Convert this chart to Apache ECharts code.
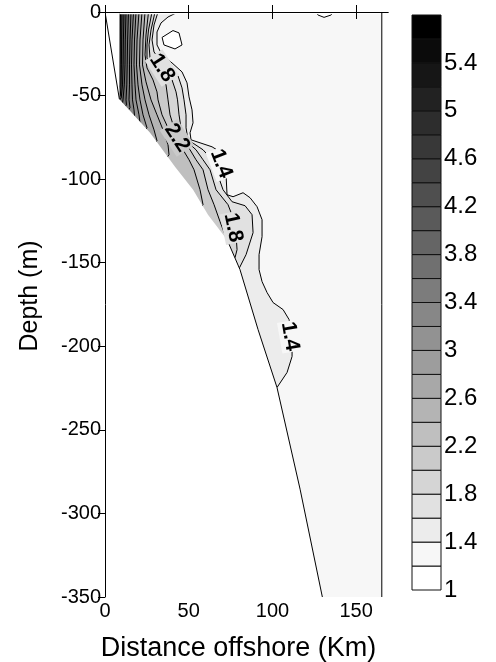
<!DOCTYPE html>
<html><head><meta charset="utf-8">
<script src="https://cdn.jsdelivr.net/npm/echarts@6/dist/echarts.min.js"></script>
<style>html,body{margin:0;padding:0;background:#fff}#c{width:496px;height:662px}</style>
</head><body><div id="c"></div>
<script>
// ---------- data ----------
const xTicks = [0, 50, 100, 150];
const yTicks = [0, -50, -100, -150, -200, -250, -300, -350];
const levels = [1.0,1.2,1.4,1.6,1.8,2.0,2.2,2.4,2.6,2.8,3.0,3.2,3.4,3.6,3.8,4.0,4.2,4.4,4.6,4.8,5.0,5.2,5.4,5.6,5.8];
const colorbarTicks = [1,1.4,1.8,2.2,2.6,3,3.4,3.8,4.2,4.6,5,5.4];
// bathymetry (distance km, depth m)
const seafloor = [[0,0],[8.6,-52.2],[26.9,-72.3],[41.8,-92.6],[52.6,-106.3],[61.5,-121.3],[72.9,-136.2],[80.6,-154.1],[91.4,-190.0],[102.7,-224.6],[116.5,-285.5],[129.8,-350]];
const dataRight = 165.3;
const dataTop = -1.4;
// turbidity contour lines (km, m)
const c14 = [[43.61,0],[37.64,-2.99],[33.45,-6.57],[31.06,-11.95],[31.06,-19.71],[34.05,-25.69],[40.03,-30.47],[46.0,-35.84],[48.99,-42.41],[50.18,-50.78],[51.97,-58.55],[52.57,-66.31],[50.78,-72.29],[51.38,-76.47],[56.75,-78.26],[63.92,-80.65],[68.70,-83.64],[71.09,-89.61],[72.29,-97.38],[72.88,-109.32],[76.47,-110.52],[82.44,-108.13],[86.62,-111.12],[90.80,-116.49],[93.79,-124.26],[93.79,-134.42],[92.0,-145.17],[92.0,-154.13],[93.79,-161.30],[96.78,-167.87],[100.36,-173.84],[106.34,-178.03],[109.92,-184.0],[111.71,-192.96],[111.71,-206.1],[108.73,-215.66],[102.75,-224.63],[98.57,-228.8]];
const c16 = [[31.66,0],[29.27,-7.77],[28.08,-16.73],[29.27,-23.90],[32.86,-28.68],[38.83,-33.45],[43.61,-38.23],[46.0,-45.40],[47.19,-52.57],[48.39,-61.53],[48.39,-69.30],[49.58,-76.47],[58.55,-82.44],[63.92,-88.42],[66.31,-94.39],[70.49,-106.34],[75.87,-113.51],[83.64,-115.90],[87.82,-121.27],[88.42,-132.03],[84.23,-145.17],[80.35,-152.93],[78.26,-157.12]];
const c18 = [[29.87,0],[27.48,-10.75],[26.29,-19.71],[26.88,-27.48],[30.47,-32.86],[35.84,-36.44],[40.03,-40.62],[42.42,-47.79],[43.31,-52.57],[44.21,-61.53],[45.40,-69.30],[47.79,-76.47],[54.36,-82.44],[58.55,-88.42],[62.73,-94.39],[66.31,-106.34],[73.48,-115.30],[76.47,-123.06],[78.26,-133.22],[78.86,-142.18],[77.66,-146.96],[74.68,-149.35]];
const c20 = [[28.08,0],[25.99,-10.75],[25.09,-19.71],[25.09,-27.48],[27.48,-32.86],[32.86,-37.64],[36.44,-43.61],[37.64,-52.57],[38.83,-61.53],[41.22,-69.30],[45.40,-76.47],[50.78,-82.44],[54.36,-88.42],[58.55,-94.39],[61.53,-106.34],[65.12,-115.30],[68.70,-125.45],[72.29,-135.01],[69.90,-139.19]];
const c22 = [[25.99,0],[24.49,-13.74],[23.90,-25.69],[25.09,-33.45],[28.68,-40.62],[31.06,-47.79],[31.66,-52.57],[34.05,-61.53],[37.64,-69.30],[42.42,-76.47],[46.60,-82.44],[50.18,-88.42],[53.17,-94.39],[56.75,-106.34],[58.55,-115.30],[55.56,-119.48]];
const c24 = [[23.90,0],[22.70,-16.73],[22.40,-31.66],[24.49,-41.82],[27.48,-52.57],[31.06,-61.53],[34.65,-70.49],[37.64,-79.45],[38.23,-85.43],[35.84,-88.42]];
const c26 = [[22.10,0],[20.91,-16.73],[20.61,-31.66],[22.10,-43.61],[23.90,-52.57],[26.29,-61.53],[29.27,-70.49],[31.06,-77.06],[28.68,-80.05]];
const c28 = [[20.31,0],[19.12,-16.73],[18.82,-31.66],[19.71,-43.61],[20.91,-52.57],[22.70,-61.53],[25.09,-69.30],[22.70,-72.29]];
const c30 = [[18.52,0],[17.62,-16.73],[17.32,-31.66],[17.92,-43.61],[18.52,-52.57],[20.31,-61.53],[20.91,-66.31],[18.52,-68.70]];
const c32 = [[17.03,0],[16.13,-16.73],[15.83,-31.66],[16.13,-43.61],[16.43,-52.57],[17.32,-58.55],[17.62,-62.13],[14.94,-64.52]];
const c34 = [[15.53,0],[14.94,-16.73],[14.64,-31.66],[14.64,-43.61],[14.34,-52.57],[14.94,-57.35],[13.14,-59.74]];
const c36 = [[14.04,0],[13.50,-16.73],[13.26,-31.66],[13.02,-43.61],[12.55,-52.57],[12.84,-55.56],[10.75,-57.95]];
const c38 = [[12.55,0],[12.13,-16.73],[11.95,-31.66],[11.53,-43.61],[10.75,-52.57],[10.45,-54.36],[8.96,-56.15]];
const c40 = [[11.35,0],[10.99,-16.73],[10.81,-31.66],[10.45,-43.61],[9.68,-51.38],[7.77,-53.77]];
const c42 = [[10.16,0],[9.92,-16.73],[9.80,-31.66],[9.56,-43.61],[9.14,-50.18],[7.17,-52.57]];
const c44 = [[9.26,0],[9.14,-16.73],[9.02,-31.66],[8.90,-43.61],[7.77,-47.79]];
// closed low (1.2) patches
const hole12a = [[34.1,-15.2],[40.6,-11.1],[44.2,-12.5],[46.0,-19.7],[41.8,-22.1],[35.2,-19.7]];
const hole12b = [[126.0,0],[127.2,-1.8],[130.8,-3.2],[135.0,-1.8],[136.2,0]];
// contour labels: text, position (km, m), angle (deg)
const labelTexts = ['1.8','2.2','1.4','1.8','1.4'];
const labelPos = [[34.05,-33.5],[43.0,-75.3],[69.3,-90.8],[76.5,-129.0],[110.5,-194.1]];
const labelAngle = [57,57,69,78,80];

// ---------- build ----------
const SANS = '"Liberation Sans", Arial, sans-serif';
const SERIF = '"Liberation Serif", "Times New Roman", serif';
const gray = i => { const g = i === 0 ? 255 : Math.round(247 * (23 - i) / 22); return 'rgb(' + g + ',' + g + ',' + g + ')'; };
const idx = L => levels.findIndex(v => Math.abs(v - L) < 1e-9);
const contours = [[1.4,c14],[1.6,c16],[1.8,c18],[2.0,c20],[2.2,c22],[2.4,c24],[2.6,c26],[2.8,c28],[3.0,c30],[3.2,c32],[3.4,c34],[3.6,c36],[3.8,c38],[4.0,c40],[4.2,c42],[4.4,c44]];
const closure = [[-20,-360],[-20,5]];
const domain = [[0,0],[dataRight,0],[dataRight,-350],[0,-350]];
const lastSF = seafloor[seafloor.length-1];
const mask = [[-5,5],[seafloor[1][0],5]].concat(seafloor.slice(1)).concat([[lastSF[0]+2.1,-360],[-5,-360]]);
const topMask = [[seafloor[1][0],5],[175,5],[175,dataTop],[seafloor[1][0],dataTop]];

function renderMain(params, api) {
  const P = pts => pts.map(p => api.coord(p));
  const ch = [];
  ch.push({type:'polygon', shape:{points:P(domain)}, style:{fill:gray(1)}});
  [hole12a, hole12b].forEach(h => ch.push({type:'polygon', shape:{points:P(h)}, style:{fill:gray(0)}}));
  contours.forEach(([L, pts]) => ch.push({type:'polygon', shape:{points:P(pts.concat(closure))}, style:{fill:gray(idx(L))}}));
  const line = pts => ({type:'polyline', shape:{points:P(pts)}, style:{stroke:'#000', lineWidth:1, fill:null}});
  contours.forEach(([L, pts]) => ch.push(line(pts)));
  ch.push(line(hole12a.concat([hole12a[0]])));
  ch.push(line(hole12b));
  ch.push({type:'polygon', shape:{points:P(mask)}, style:{fill:'#fff'}});
  ch.push({type:'polygon', shape:{points:P(topMask)}, style:{fill:'#fff'}});
  ch.push(line(seafloor.slice(0,2)));
  ch.push(line(seafloor.slice(6)));
  ch.push(line([[dataRight,0],[dataRight,-350]]));
  labelTexts.forEach((t, i) => {
    const c = api.coord(labelPos[i]);
    ch.push({type:'text', x:c[0], y:c[1], rotation:-labelAngle[i]*Math.PI/180,
      style:{text:t, fontSize:21, fontWeight:'bold', fontFamily:SANS, fill:'#000', align:'center', verticalAlign:'middle',
        backgroundColor: gray(idx(parseFloat(t)) - 1), padding:[0,1]}});
  });
  return {type:'group', children:ch};
}

function renderBar(params, api) {
  const i = params.dataIndex;
  const a = api.coord([0, levels[i+1]]);
  const b = api.coord([1, levels[i]]);
  return {type:'rect', shape:{x:a[0], y:a[1], width:b[0]-a[0], height:b[1]-a[1]},
    style:{fill:gray(i), stroke:'#111', lineWidth:1}};
}

const axisCommon = {
  axisLine:{show:true, lineStyle:{color:'#000', width:1}},
  splitLine:{show:false},
  z:10
};
const chart = echarts.init(document.getElementById('c'), null, {renderer:'canvas'});
chart.setOption({
  animation:false,
  backgroundColor:'#fff',
  grid:[
    {left:105, top:12, width:283, height:585, outerBoundsMode:'none', containLabel:false},
    {left:412, top:15, width:29, height:575, outerBoundsMode:'none', containLabel:false}
  ],
  xAxis:[
    Object.assign({type:'value', gridIndex:0, min:0, max:169, position:'bottom',
      axisTick:{show:true, length:7, customValues:xTicks, lineStyle:{color:'#000'}},
      axisLabel:{customValues:xTicks, fontSize:20, fontFamily:SANS, color:'#000', margin:4}}, axisCommon),
    Object.assign({type:'value', gridIndex:0, min:0, max:169, position:'top',
      axisTick:{show:true, length:7, customValues:xTicks, lineStyle:{color:'#000'}},
      axisLabel:{show:false}}, axisCommon),
    {type:'value', gridIndex:1, min:0, max:1, show:false}
  ],
  yAxis:[
    Object.assign({type:'value', gridIndex:0, min:-350, max:0, interval:50, position:'left',
      axisTick:{show:true, length:7, customValues:yTicks, lineStyle:{color:'#000'}},
      axisLabel:{customValues:yTicks, fontSize:20, fontFamily:SANS, color:'#000', margin:4}}, axisCommon),
    {type:'value', gridIndex:1, min:1, max:5.8, position:'right',
      axisLine:{show:false}, axisTick:{show:false}, splitLine:{show:false},
      axisLabel:{customValues:colorbarTicks, fontSize:24, fontFamily:SANS, color:'#000', margin:3, padding:[8,0,0,0]}}
  ],
  series:[
    {type:'custom', xAxisIndex:0, yAxisIndex:0, clip:true, silent:true, data:[[0,0]], renderItem:renderMain, z:2},
    {type:'custom', xAxisIndex:2, yAxisIndex:1, silent:true, data:levels.slice(0,-1).map((v,i)=>[0,v]), renderItem:renderBar, z:2}
  ],
  graphic:[
    {type:'text', x:238.5, y:649, style:{text:'Distance offshore (Km)', font:'27px ' + SANS, fill:'#000', align:'center', verticalAlign:'middle', textAlign:'center', textVerticalAlign:'middle'}},
    {type:'text', x:30, y:296, rotation:Math.PI/2, style:{text:'Depth (m)', font:'25px ' + SANS, fill:'#000', align:'center', verticalAlign:'middle', textAlign:'center', textVerticalAlign:'middle'}},
    {type:'text', x:207.5, y:404, style:{text:'Turbidez', font:'bold 25px ' + SERIF, fill:'#000', align:'center', verticalAlign:'middle', textAlign:'center', textVerticalAlign:'middle'}},
    {type:'text', x:207.5, y:453, style:{text:'UT', font:'bold 25px ' + SERIF, fill:'#000', align:'center', verticalAlign:'middle', textAlign:'center', textVerticalAlign:'middle'}}
  ]
});
</script>
</body></html>
